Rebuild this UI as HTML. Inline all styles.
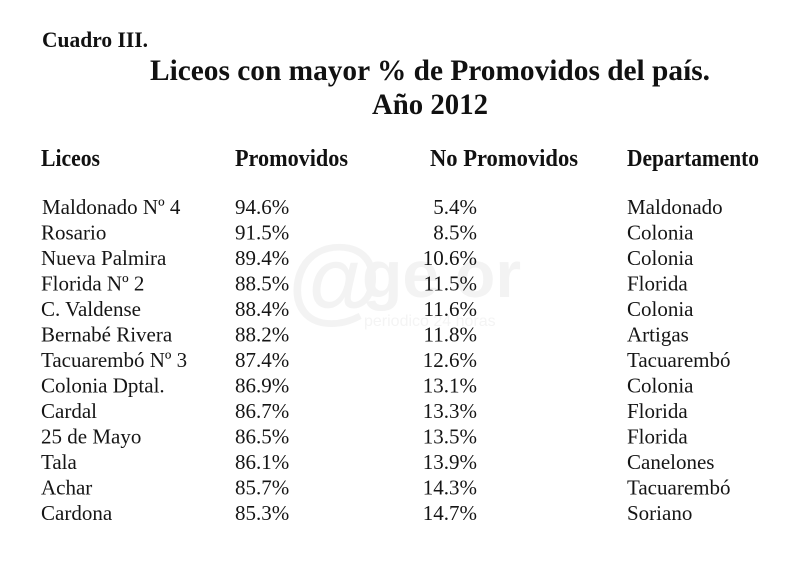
<!DOCTYPE html>
<html>
<head>
<meta charset="utf-8">
<style>
  html, body { margin: 0; padding: 0; background: #ffffff; }
  body { width: 800px; height: 565px; overflow: hidden; }
  svg { display: block; }
  .b { font-family: "Liberation Serif", "Times New Roman", serif; font-weight: bold; fill: #111; }
  .r { font-family: "Liberation Serif", "Times New Roman", serif; font-size: 21px; fill: #151515; }
  .wm { font-family: "Liberation Sans", Arial, sans-serif; font-weight: bold; fill: #f3f3f3; }
  .wms { font-family: "Liberation Sans", Arial, sans-serif; fill: #f4f4f4; }
</style>
</head>
<body>
<svg width="800" height="565" viewBox="0 0 800 565" xmlns="http://www.w3.org/2000/svg">
  <rect x="0" y="0" width="800" height="565" fill="#ffffff"/>

  <!-- watermark -->
  <text class="wm" x="288" y="312" font-size="96">@</text>
  <text class="wm" x="362" y="297" font-size="66">ge</text>
  <text class="wm" x="455" y="297" font-size="66">or</text>
  <text class="wms" x="364" y="326" font-size="16">periodico 24 horas</text>

  <!-- headings -->
  <text class="b" x="42" y="47" font-size="22" textLength="106" lengthAdjust="spacingAndGlyphs">Cuadro III.</text>
  <text class="b" x="150" y="80" font-size="29.5" textLength="560" lengthAdjust="spacingAndGlyphs">Liceos con mayor % de Promovidos del país.</text>
  <text class="b" x="372" y="114" font-size="29.5" textLength="116" lengthAdjust="spacingAndGlyphs">Año 2012</text>

  <!-- column headers -->
  <text class="b" x="41" y="166" font-size="24" textLength="59" lengthAdjust="spacingAndGlyphs">Liceos</text>
  <text class="b" x="235" y="166" font-size="24" textLength="113" lengthAdjust="spacingAndGlyphs">Promovidos</text>
  <text class="b" x="430" y="166" font-size="24" textLength="148" lengthAdjust="spacingAndGlyphs">No Promovidos</text>
  <text class="b" x="627" y="166" font-size="24" textLength="132" lengthAdjust="spacingAndGlyphs">Departamento</text>

  <!-- rows -->
  <g class="r">
    <text x="42" y="214">Maldonado Nº 4</text>
    <text x="235" y="214">94.6%</text>
    <text x="477" y="214" text-anchor="end">5.4%</text>
    <text x="627" y="214">Maldonado</text>

    <text x="41" y="239.5">Rosario</text>
    <text x="235" y="239.5">91.5%</text>
    <text x="477" y="239.5" text-anchor="end">8.5%</text>
    <text x="627" y="239.5">Colonia</text>

    <text x="41" y="265">Nueva Palmira</text>
    <text x="235" y="265">89.4%</text>
    <text x="477" y="265" text-anchor="end">10.6%</text>
    <text x="627" y="265">Colonia</text>

    <text x="41" y="290.5">Florida Nº 2</text>
    <text x="235" y="290.5">88.5%</text>
    <text x="477" y="290.5" text-anchor="end">11.5%</text>
    <text x="627" y="290.5">Florida</text>

    <text x="41" y="316">C. Valdense</text>
    <text x="235" y="316">88.4%</text>
    <text x="477" y="316" text-anchor="end">11.6%</text>
    <text x="627" y="316">Colonia</text>

    <text x="41" y="341.5">Bernabé Rivera</text>
    <text x="235" y="341.5">88.2%</text>
    <text x="477" y="341.5" text-anchor="end">11.8%</text>
    <text x="627" y="341.5">Artigas</text>

    <text x="41" y="367">Tacuarembó Nº 3</text>
    <text x="235" y="367">87.4%</text>
    <text x="477" y="367" text-anchor="end">12.6%</text>
    <text x="627" y="367">Tacuarembó</text>

    <text x="41" y="392.5">Colonia Dptal.</text>
    <text x="235" y="392.5">86.9%</text>
    <text x="477" y="392.5" text-anchor="end">13.1%</text>
    <text x="627" y="392.5">Colonia</text>

    <text x="41" y="418">Cardal</text>
    <text x="235" y="418">86.7%</text>
    <text x="477" y="418" text-anchor="end">13.3%</text>
    <text x="627" y="418">Florida</text>

    <text x="41" y="443.5">25 de Mayo</text>
    <text x="235" y="443.5">86.5%</text>
    <text x="477" y="443.5" text-anchor="end">13.5%</text>
    <text x="627" y="443.5">Florida</text>

    <text x="41" y="469">Tala</text>
    <text x="235" y="469">86.1%</text>
    <text x="477" y="469" text-anchor="end">13.9%</text>
    <text x="627" y="469">Canelones</text>

    <text x="41" y="494.5">Achar</text>
    <text x="235" y="494.5">85.7%</text>
    <text x="477" y="494.5" text-anchor="end">14.3%</text>
    <text x="627" y="494.5">Tacuarembó</text>

    <text x="41" y="520">Cardona</text>
    <text x="235" y="520">85.3%</text>
    <text x="477" y="520" text-anchor="end">14.7%</text>
    <text x="627" y="520">Soriano</text>
  </g>
</svg>
</body>
</html>
